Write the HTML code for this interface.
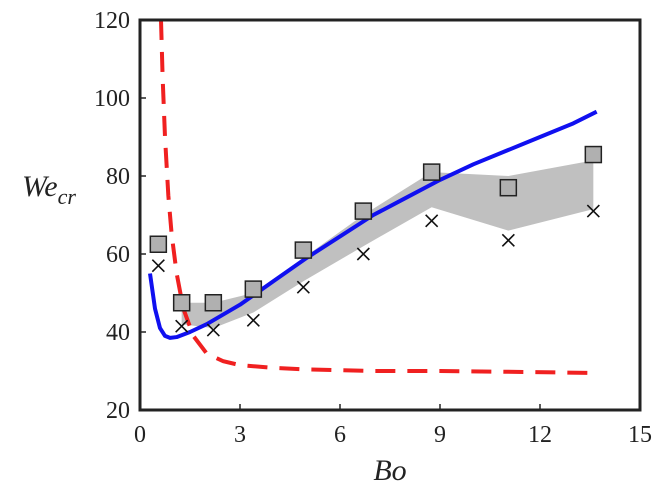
<!DOCTYPE html>
<html><head><meta charset="utf-8"><style>
body{margin:0;background:#fff}
svg text{font-family:"Liberation Serif",serif;fill:#222}
</style></head><body>
<svg id="c" width="656" height="497" xmlns="http://www.w3.org/2000/svg"></svg>
<script>
const xTicks=[0,3,6,9,12,15];
const yTicks=[20,40,60,80,100,120];
const bo=[0.55,1.25,2.2,3.4,4.9,6.7,8.75,11.05,13.6];
const squares=[62.5,47.5,47.5,51,61,71,81,77,85.5];
const crosses=[57,41.5,40.5,43,51.5,60,68.5,63.5,71];
const bandBo=[1.25,2.2,3.4,4.9,6.7,8.75,11.05,13.6];
const bandLow=[42,41,45,53,62,72,66,71.5];
const bandHigh=[47.5,47.5,50,59,70,81,80,84];
const blueBo=[0.3,0.45,0.6,0.75,0.9,1.1,1.5,2,3,4,5,6,7,8,9,10,11,12,13,13.7];
const blueWe=[55,46,41,39,38.5,38.7,40,42,47,53,59,64.5,70,74.5,79,83,86.5,90,93.5,96.5];
const redBo=[0.63,0.68,0.75,0.85,0.95,1.1,1.3,1.6,2,2.5,3,4,5,7,9,11,13.6];
const redWe=[120,105,90,75,65,55,46,39,34.5,32.5,31.5,30.8,30.4,30,30,29.8,29.5];
const L=140,R=640,T=20,B=410;
const sx=v=>L+(v-0)/(15-0)*(R-L);
const sy=v=>B-(v-20)/(120-20)*(B-T);
const svg=document.getElementById('c');
const NS='http://www.w3.org/2000/svg';
function mk(tag,attrs,name,parent){const e=document.createElementNS(NS,tag);for(const k in attrs)e.setAttribute(k,attrs[k]);


(parent||svg).appendChild(e);return e;}
const clip=mk('clipPath',{id:'cp'},'clip');mk('rect',{x:L,y:T,width:R-L,height:B-T},'clip-rect',clip);
const g=mk('g',{'clip-path':'url(#cp)'},'plot-area');
let pts=bandBo.map((b,i)=>sx(b)+','+sy(bandHigh[i])).concat(bandBo.map((b,i)=>sx(b)+','+sy(bandLow[i])).reverse());
mk('polygon',{points:pts.join(' '),fill:'#c0c0c0'},'uncertainty-band',g);
mk('polyline',{points:redBo.map((b,i)=>sx(b)+','+sy(redWe[i])).join(' '),fill:'none',stroke:'#f02020','stroke-width':4,'stroke-dasharray':'20,12'},'red-dashed-curve',g);
mk('polyline',{points:blueBo.map((b,i)=>sx(b)+','+sy(blueWe[i])).join(' '),fill:'none',stroke:'#1010f0','stroke-width':4,'stroke-linejoin':'round'},'blue-curve',g);
bo.forEach((b,i)=>{const x=sx(b),y=sy(crosses[i]);
mk('path',{d:`M${x-6} ${y-6}L${x+6} ${y+6}M${x-6} ${y+6}L${x+6} ${y-6}`,stroke:'#111','stroke-width':1.6},'cross-marker',g);});
bo.forEach((b,i)=>{const x=sx(b),y=sy(squares[i]);
mk('rect',{x:x-8,y:y-8,width:16,height:16,fill:'#b0b0b0',stroke:'#222','stroke-width':1.5},'square-marker',g);});
mk('rect',{x:L,y:T,width:R-L,height:B-T,fill:'none',stroke:'#222','stroke-width':3},'axes-box');
xTicks.forEach(t=>{const x=sx(t);
mk('line',{x1:x,x2:x,y1:B,y2:B-6,stroke:'#222','stroke-width':1.5},'x-tick');
const tx=mk('text',{x:x,y:B+32,'text-anchor':'middle','font-size':24},'x-tick-label');tx.textContent=t;});
yTicks.forEach(t=>{const y=sy(t);
mk('line',{x1:L,x2:L+6,y1:y,y2:y,stroke:'#222','stroke-width':1.5},'y-tick');
const tx=mk('text',{x:L-10,y:y+8,'text-anchor':'end','font-size':24},'y-tick-label');tx.textContent=t;});
const xl=mk('text',{x:390,y:480,'text-anchor':'middle','font-size':30,'font-style':'italic'},'x-axis-title');xl.textContent='Bo';
const yl=mk('text',{x:22,y:196,'font-size':30,'font-style':'italic'},'y-axis-title');
yl.innerHTML='We<tspan dy="8" font-size="22">cr</tspan>';
</script>
</body></html>
